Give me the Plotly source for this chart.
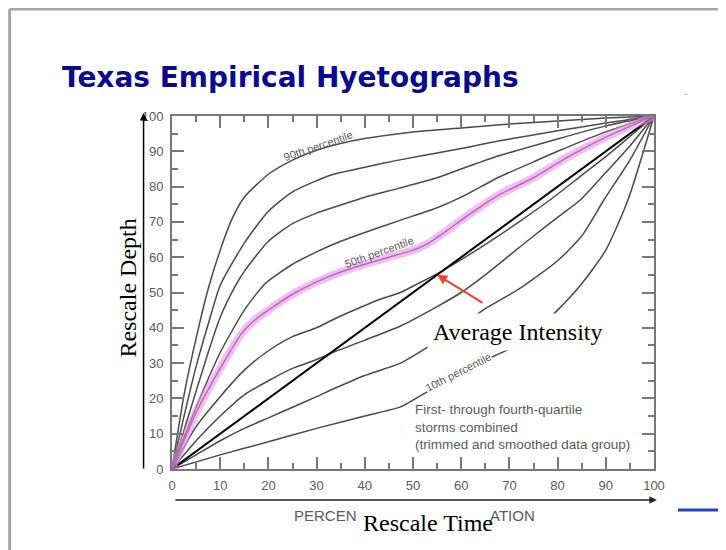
import plotly.graph_objects as go

# percentile curves (rescaled time %, rescaled depth %)
p90_x = [0, 2.5, 5, 7.5, 10, 12.5, 15, 20, 25, 30, 35, 40, 50, 60, 70, 80, 90, 100]
p90_y = [0, 21, 37, 51, 62, 71, 77, 83.5, 87.5, 90.3, 92.2, 93.6, 95.5, 96.6, 97.7, 98.6, 99.4, 100]

p80_x = [0, 2.5, 5, 7.5, 10, 15, 20, 25, 33, 40, 47, 55, 60, 68, 80, 90, 100]
p80_y = [0, 15, 29, 41, 52, 64, 73, 78.5, 83.3, 85.5, 87.5, 89.5, 90.8, 93, 95.8, 98, 100]

p70_x = [0, 2.5, 5, 7.5, 10, 13.2, 15, 20, 25, 30, 35, 40, 47, 55, 60, 68, 80, 90, 100]
p70_y = [0, 11, 22, 33, 43, 52, 56, 64.5, 69.5, 72.5, 74.8, 77, 79.5, 82.5, 85, 88.8, 93.5, 97.2, 100]

p60_x = [0, 2.5, 5, 7.5, 10, 15, 19.4, 25, 30, 35, 40, 47, 55, 60, 68, 75, 80, 90, 100]
p60_y = [0, 9, 17.5, 25.5, 33, 45, 52.6, 58, 61.5, 64.5, 67, 70.3, 74, 77, 82.8, 87, 90, 95.5, 100]

p50_x = [0, 2.5, 5, 10, 14.5, 17, 20, 25, 30, 35, 40, 45, 50, 53, 57, 61, 65, 68, 75, 82, 90, 100]
p50_y = [0, 8, 16, 28.5, 38.5, 42, 45, 49.5, 53, 55.8, 58, 60, 62, 63.8, 67.5, 71.5, 75.2, 77.8, 82.5, 88.3, 94, 100]

p40_x = [0, 5, 10, 15, 20, 25, 30, 34, 40, 43, 47.4, 51, 55, 60, 66, 72, 78.4, 85, 90, 95, 100]
p40_y = [0, 12, 20.5, 28, 33.5, 37.5, 40, 42.7, 46.3, 48, 50, 52.5, 55.3, 59.3, 64.5, 70, 76.2, 83.2, 88.5, 94.2, 100]

p30_x = [0, 5, 10, 15, 20, 25, 30, 33, 40, 47.4, 55, 60, 65, 70, 75, 80, 84.7, 90, 95, 100]
p30_y = [0, 8, 15, 21, 25, 28.5, 31, 32.8, 36.5, 40.5, 46, 50, 55, 60.5, 66, 71.3, 76.2, 84, 91.5, 100]

p20_x = [0, 5, 10, 15, 20, 25, 30, 34, 40, 47.4, 53.6, 60, 65, 72, 80, 85, 89.6, 95, 100]
p20_y = [0, 4, 8, 11.5, 14.5, 17.5, 20.5, 23, 26.5, 30, 35, 40.5, 45.4, 51, 59, 66, 76.2, 87.5, 100]

p10_x = [0, 10, 20, 30, 40, 47.4, 50, 55, 60, 66, 73, 80, 85, 90, 94.6, 100]
p10_y = [0, 4, 7.7, 11.5, 15, 17.6, 19.5, 23.5, 27, 31.5, 36, 45, 52.5, 62, 76.2, 100]

avg_x = [0, 100]
avg_y = [0, 100]

x_ticks = [0, 10, 20, 30, 40, 50, 60, 70, 80, 90, 100]
y_ticks = [0, 10, 20, 30, 40, 50, 60, 70, 80, 90, 100]

curve_col = '#4a4a4a'
grey_txt = '#5a5a5a'
serif = 'Liberation Serif, Times New Roman'

fig = go.Figure()
for xs, ys in [(p90_x, p90_y), (p80_x, p80_y), (p70_x, p70_y), (p60_x, p60_y),
               (p40_x, p40_y), (p30_x, p30_y), (p20_x, p20_y), (p10_x, p10_y)]:
    fig.add_trace(go.Scatter(x=xs, y=ys, mode='lines', line=dict(color=curve_col, width=1.5, shape='spline', smoothing=0.6),
                             showlegend=False, hoverinfo='skip'))
fig.add_trace(go.Scatter(x=avg_x, y=avg_y, mode='lines', line=dict(color='black', width=2),
                         showlegend=False, hoverinfo='skip'))
# 50th percentile with pink highlight
fig.add_trace(go.Scatter(x=p50_x, y=p50_y, mode='lines', line=dict(color=curve_col, width=1.5, shape='spline', smoothing=0.6),
                         showlegend=False, hoverinfo='skip'))
fig.add_trace(go.Scatter(x=p50_x, y=p50_y, mode='lines', opacity=0.6,
                         line=dict(color='#ee8fee', width=8, shape='spline', smoothing=0.6),
                         showlegend=False, hoverinfo='skip'))

axis_common = dict(range=[0, 100], tick0=0, dtick=10, ticks='inside', ticklen=12, tickwidth=1.5,
                   tickcolor='#777', showline=True, linecolor='#777', linewidth=2, mirror='allticks',
                   showgrid=False, zeroline=False,
                   minor=dict(dtick=5, ticks='inside', ticklen=6, tickwidth=1.5, tickcolor='#777'),
                   tickfont=dict(family='Liberation Sans, Arial', size=13, color=grey_txt))
fig.update_xaxes(**axis_common, tickvals=x_ticks, ticklabelstandoff=3)
fig.update_yaxes(**axis_common, tickvals=y_ticks, ticklabelstandoff=4)

lbl_font = dict(family='Liberation Sans, Arial', size=11, color=grey_txt)
fig.add_annotation(x=30.2, y=91.6, text='90th percentile', showarrow=False, textangle=-19, font=lbl_font)
fig.add_annotation(x=43, y=61.5, text='50th percentile', showarrow=False, textangle=-20, font=lbl_font)
fig.add_annotation(x=59.4, y=27.6, text='10th percentile', showarrow=False, textangle=-27, font=lbl_font,
                   bgcolor='white', borderpad=0)

fig.add_annotation(x=50, y=11.9, showarrow=False, xanchor='left', yanchor='middle', align='left',
                   text='First- through fourth-quartile<br>storms combined<br>(trimmed and smoothed data group)',
                   font=dict(family='Liberation Sans, Arial', size=13.5, color=grey_txt))

# red arrow + label
fig.add_annotation(x=55, y=55, ax=47, ay=29, text='', showarrow=True, arrowhead=2, arrowsize=1,
                   arrowwidth=2, arrowcolor='#e8412c')
fig.add_annotation(x=71.8, y=38.8, text='Average Intensity', showarrow=False, bgcolor='white', borderpad=5,
                   font=dict(family=serif, size=24, color='black'))

# axis arrows
fig.add_annotation(xref='paper', yref='paper', x=-0.059, y=1.0085, ax=0, ay=357, text='', showarrow=True,
                   arrowhead=2, arrowsize=1, arrowwidth=1.5, arrowcolor='black')
fig.add_annotation(xref='paper', yref='paper', x=1.006, y=-0.0878, ax=-483, ay=0, text='', showarrow=True,
                   arrowhead=2, arrowsize=1, arrowwidth=1.5, arrowcolor='#222')

# original axis title fragments + overlaid titles
paper_txt = dict(xref='paper', yref='paper', showarrow=False, xanchor='center', yanchor='middle')
fig.add_annotation(**paper_txt, x=0.318, y=-0.131, text='PERCEN',
                   font=dict(family='Liberation Sans, Arial', size=15, color=grey_txt))
fig.add_annotation(**paper_txt, x=0.706, y=-0.131, text='ATION',
                   font=dict(family='Liberation Sans, Arial', size=15, color=grey_txt))
fig.add_annotation(**paper_txt, x=0.5316, y=-0.152, text='Rescale Time',
                   font=dict(family=serif, size=24, color='black'))
fig.add_annotation(**paper_txt, x=-0.092, y=0.513, text='Rescale Depth', textangle=-90,
                   font=dict(family=serif, size=24, color='black'))
fig.add_annotation(**paper_txt, x=1.066, y=1.06, text='ᵕ',
                   font=dict(family='DejaVu Sans', size=9, color='#777'))

# slide frame and decoration
fig.add_shape(type='line', xref='paper', yref='paper', x0=-0.3368, x1=1.2, y0=1.303, y1=1.303,
              line=dict(color='#a3a7ab', width=3))
fig.add_shape(type='line', xref='paper', yref='paper', x0=-0.3368, x1=-0.3368, y0=1.303, y1=-0.3,
              line=dict(color='#a3a7ab', width=3))
fig.add_shape(type='line', xref='paper', yref='paper', x0=1.0497, x1=1.2, y0=-0.116, y1=-0.116,
              line=dict(color='#2540c0', width=3))

# page body adds an 8px offset, so the figure is laid out 8px up/left
fig.update_layout(
    width=718, height=542,
    margin=dict(l=163.5, r=72, t=108, b=81),
    paper_bgcolor='white', plot_bgcolor='white',
    title=dict(text='Texas Empirical Hyetographs', x=54 / 718, xanchor='left', y=1 - 69 / 542, yanchor='middle',
               font=dict(family='DejaVu Sans', size=28, color='#0a0a8c', weight='bold')),
)

fig.write_html('out.html')
